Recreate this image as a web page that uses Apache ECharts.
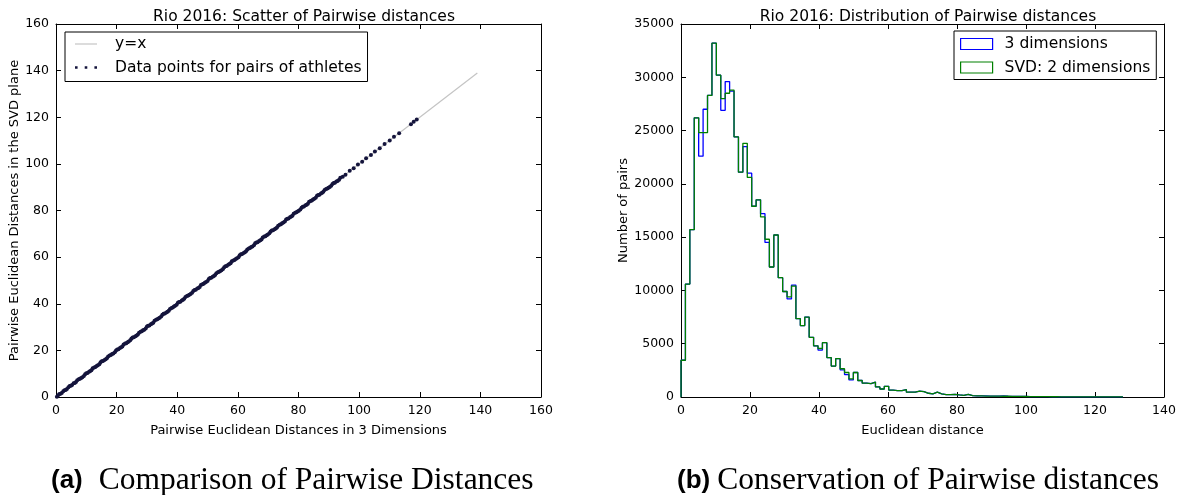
<!DOCTYPE html>
<html lang="en">

<head>
  <meta charset="UTF-8">
  <title>Rio 2016 pairwise distances</title>
  <script src="https://cdn.jsdelivr.net/npm/echarts@6/dist/echarts.min.js"></script>
  <style>
    html, body { margin: 0; padding: 0; background: #fff; }
    #chart { width: 1179px; height: 495px; }
  </style>
</head>

<body>
  <div id="chart"></div>
</body>

</html>
<script>
  // scatter: [distance in 3 dims, distance in SVD plane]
  const pairPoints = [
    [0.3,0.1],[1.1,1.3],[1.9,1.7],[2.8,2.9],[3.6,3.4],[4.5,4.7],[5.3,5.2],[6.2,6.0],[7.0,7.2],[7.9,7.8],
    [8.7,8.5],[9.6,9.8],[10.4,10.3],[11.3,11.1],[12.1,12.3],[13.0,12.9],[13.8,13.6],[14.7,14.9],[15.5,15.4],[16.4,16.2],
    [17.2,17.4],[18.1,18.0],[18.9,18.7],[19.8,20.0],[20.6,20.5],[21.5,21.3],[22.3,22.5],[23.2,23.1],[24.0,23.8],[24.9,25.1],
    [25.7,25.6],[26.6,26.4],[27.4,27.6],[28.3,28.2],[29.1,28.9],[30.0,30.2],[30.8,30.7],[31.7,31.5],[32.5,32.7],[33.4,33.3],
    [34.2,34.0],[35.1,35.3],[35.9,35.8],[36.8,36.6],[37.6,37.8],[38.5,38.4],[39.3,39.1],[40.2,40.4],[41.0,40.9],[41.9,41.7],
    [42.7,42.9],[43.6,43.5],[44.4,44.2],[45.3,45.5],[46.1,46.0],[47.0,46.8],[47.8,48.0],[48.7,48.6],[49.5,49.3],[50.4,50.6],
    [51.2,51.1],[52.1,51.9],[52.9,53.1],[53.8,53.7],[54.6,54.4],[55.5,55.7],[56.3,56.2],[57.2,57.0],[58.0,58.2],[58.9,58.8],
    [59.7,59.5],[60.6,60.8],[61.4,61.3],[62.3,62.1],[63.1,63.3],[64.0,63.9],[64.8,64.6],[65.7,65.9],[66.5,66.4],[67.4,67.2],
    [68.2,68.4],[69.1,69.0],[69.9,69.7],[70.8,71.0],[71.6,71.5],[72.5,72.3],[73.3,73.5],[74.2,74.1],[75.0,74.8],[75.9,76.1],
    [76.7,76.6],[77.6,77.4],[78.4,78.6],[79.3,79.2],[80.1,79.9],[81.0,81.2],[81.8,81.7],[82.7,82.5],[83.5,83.7],[84.4,84.3],
    [85.2,85.0],[86.1,86.3],[86.9,86.8],[87.8,87.6],[88.6,88.8],[89.5,89.4],[90.3,90.1],[91.2,91.4],[92.0,91.9],[92.9,92.7],
    [93.8,94.0],[94.6,94.5],[95.5,95.3],[96.9,97.0],[98.2,98.1],[99.6,99.7],[101.0,100.9],[102.3,102.4],[103.9,103.8],[105.2,105.3],
    [106.8,106.7],[108.4,108.5],[110.1,110.0],[111.5,111.6],[113.2,113.1],[117.1,117.0],[118.0,118.1],[119.0,119.0]
  ];
  const pairPointsMore = [
    [0.7,0.8],[1.5,1.4],[2.4,2.5],[3.2,3.0],[4.1,4.2],[4.9,4.8],[5.8,5.9],[6.6,6.4],[7.5,7.6],[8.3,8.2],
    [9.2,9.0],[10.0,10.2],[10.9,10.8],[11.7,11.5],[12.6,12.7],[13.4,13.3],[14.3,14.1],[15.1,15.3],[16.0,15.9],[16.8,16.6],
    [17.7,17.8],[18.5,18.4],[19.4,19.2],[20.2,20.4],[21.1,21.0],[21.9,21.7],[22.8,22.9],[23.6,23.5],[24.5,24.3],[25.3,25.5],
    [26.2,26.1],[27.0,26.8],[27.9,28.0],[28.7,28.6],[29.6,29.4],[30.4,30.6],[31.3,31.2],[32.1,31.9],[33.0,33.1],[33.8,33.7],
    [34.7,34.5],[35.5,35.7],[36.4,36.3],[37.2,37.0],[38.1,38.2],[38.9,38.8],[39.8,39.6],[40.6,40.8],[41.5,41.4],[42.3,42.1],
    [43.2,43.3],[44.0,43.9],[44.9,44.7],[45.7,45.9],[46.6,46.5],[47.4,47.2],[48.3,48.4],[49.1,49.0],[50.0,49.8],[50.8,51.0],
    [51.7,51.6],[52.5,52.3],[53.4,53.5],[54.2,54.1],[55.1,54.9],[55.9,56.1],[56.8,56.7],[57.6,57.4],[58.5,58.6],[59.3,59.2],
    [60.2,60.0],[61.0,61.2],[61.9,61.8],[62.7,62.5],[63.6,63.7],[64.4,64.3],[65.3,65.1],[66.1,66.3],[67.0,66.9],[67.8,67.6],
    [68.7,68.8],[69.5,69.4],[70.4,70.2],[71.2,71.4],[72.1,72.0],[72.9,72.7],[73.8,73.9],[74.6,74.5],[75.5,75.3],[76.3,76.5],
    [77.2,77.1],[78.0,77.8],[78.9,79.0],[79.7,79.6],[80.6,80.4],[81.4,81.6],[82.3,82.2],[83.1,82.9],[84.0,84.1],[84.8,84.7],
    [85.7,85.5],[86.5,86.7],[87.4,87.3],[88.2,88.0],[89.1,89.2],[89.9,89.8],[90.8,90.6],[91.6,91.8],[92.5,92.4],[93.4,93.2]
  ];
  const identityLine = [[0, 0], [139, 139]];

  // histogram: 100 bins over [0, 128.1]
  const histMax = 128.1;
  const counts3d = [
    3450, 10600, 15700, 26200, 22600, 27000, 28300, 33200, 30200, 26900,
    29600, 28700, 24400, 21100, 23500, 21000, 17900, 18500, 17200, 14500,
    12200, 15200, 11200, 9900, 9200, 10500, 7350, 6700, 7500, 5600,
    4800, 4400, 5100, 3700, 2900, 3600, 2550, 2100, 1600, 2300,
    1550, 1300, 1250, 1400, 950, 750, 1000, 650, 600, 600,
    700, 450, 450, 550, 500, 350, 300, 450, 300, 220,
    220, 250, 200, 160, 250, 120, 110, 100, 100, 90,
    90, 80, 100, 70, 60, 60, 50, 50, 40, 40,
    35, 30, 30, 25, 25, 20, 20, 18, 15, 15,
    12, 12, 10, 10, 8, 8, 6, 6, 5, 5
  ];
  const countsSvd = [
    3450, 10600, 15700, 26200, 24800, 24800, 28300, 33200, 30200, 28000,
    28500, 28800, 24400, 21100, 23800, 20600, 17900, 18500, 16900, 14800,
    12200, 15200, 11200, 9900, 9400, 10400, 7350, 6700, 7500, 5600,
    4800, 4550, 5100, 3700, 2900, 3600, 2650, 2300, 1700, 2300,
    1550, 1300, 1250, 1400, 950, 750, 1000, 650, 600, 600,
    700, 450, 450, 550, 500, 350, 300, 450, 300, 220,
    220, 250, 200, 160, 250, 120, 100, 100, 90, 90,
    80, 80, 70, 70, 60, 55, 50, 45, 40, 40,
    35, 30, 30, 25, 25, 20, 20, 18, 15, 15,
    12, 12, 10, 10, 8, 8, 6, 6, 5, 5
  ];

  const FONT = 'DejaVu Sans';

  // outline of a step histogram as points for a step:'end' line
  function stepOutline(counts) {
    const w = histMax / counts.length;
    const pts = [[0, 0]];
    counts.forEach((c, i) => pts.push([i * w, c]));
    pts.push([histMax, 0]);
    return pts;
  }

  function frameAxes(dim, grid, min, max, interval, extra) {
    const base = {
      gridIndex: grid,
      type: 'value',
      min: min,
      max: max,
      interval: interval,
      splitLine: { show: false },
      axisLine: { show: true, onZero: false, lineStyle: { color: '#000', width: 1 } },
      axisTick: { show: true, inside: true, length: 5, lineStyle: { color: '#000' } },
      axisLabel: { color: '#000', fontFamily: FONT, fontSize: 12.5, margin: 7, formatter: v => String(v) }
    };
    const main = Object.assign({}, base, extra, { position: dim === 'x' ? 'bottom' : 'left' });
    const mirror = Object.assign({}, base, {
      position: dim === 'x' ? 'top' : 'right',
      axisLabel: { show: false }
    });
    return [main, mirror];
  }

  const axisName = { color: '#000', fontFamily: FONT, fontSize: 13 };
  function captionRich(gap) {
    return {
      b: { fontFamily: 'Liberation Sans', fontWeight: 'bold', fontSize: 26, color: '#000' },
      s: { fontFamily: 'Liberation Serif', fontWeight: 'normal', fontSize: 31.5, color: '#000', padding: [0, 0, 0, gap] }
    };
  }

  const chart = echarts.init(document.getElementById('chart'));

  chart.setOption({
    animation: false,
    backgroundColor: '#fff',
    title: [
      {
        text: 'Rio 2016: Scatter of Pairwise distances',
        left: 299, top: 4, textAlign: 'center',
        textStyle: { fontFamily: FONT, fontSize: 15.5, fontWeight: 'normal', color: '#000' }
      },
      {
        text: 'Rio 2016: Distribution of Pairwise distances',
        left: 923, top: 4, textAlign: 'center',
        textStyle: { fontFamily: FONT, fontSize: 15.5, fontWeight: 'normal', color: '#000' }
      },
      {
        text: '{b|(a)}{s|Comparison of Pairwise Distances}',
        left: 46, top: 460,
        textStyle: { fontWeight: 'normal', rich: captionRich(16) }
      },
      {
        text: '{b|(b)}{s|Conservation of Pairwise distances}',
        left: 672, top: 460,
        textStyle: { fontWeight: 'normal', rich: captionRich(7) }
      }
    ],
    legend: [
      {
        left: 65, top: 32, orient: 'vertical',
        padding: [4, 6, 6, 10],
        itemGap: 7.5, itemWidth: 22, itemHeight: 14,
        backgroundColor: '#fff', borderColor: '#000', borderWidth: 1, borderRadius: 0,
        textStyle: { fontFamily: FONT, fontSize: 15.5, color: '#000', padding: [0, 0, 0, 13] },
        data: [
          { name: 'y=x', icon: 'path://M0,0h22v1.2h-22z', itemStyle: { color: '#c4c4c4' } },
          { name: 'Data points for pairs of athletes',
            icon: 'path://M0,0h2.4v2.4h-2.4z M9,0h2.4v2.4h-2.4z M18,0h2.4v2.4h-2.4z',
            itemStyle: { color: '#14143c' } }
        ]
      },
      {
        left: 954, top: 31, orient: 'vertical',
        padding: [5, 6, 4, 6],
        itemGap: 7.5, itemWidth: 32, itemHeight: 11,
        backgroundColor: '#fff', borderColor: '#000', borderWidth: 1, borderRadius: 0,
        textStyle: { fontFamily: FONT, fontSize: 15.5, color: '#000', padding: [0, 0, 0, 7] },
        data: [
          { name: '3 dimensions', icon: 'rect',
            itemStyle: { color: 'rgba(0,0,0,0)', borderColor: '#0000ff', borderWidth: 1.2 } },
          { name: 'SVD: 2 dimensions', icon: 'rect',
            itemStyle: { color: 'rgba(0,0,0,0)', borderColor: '#008000', borderWidth: 1.2 } }
        ]
      }
    ],
    grid: [
      { left: 56, top: 24, width: 485, height: 373 },
      { left: 681, top: 24, width: 483, height: 373 }
    ],
    xAxis: [
      ...frameAxes('x', 0, 0, 160, 20, {
        name: 'Pairwise Euclidean Distances in 3 Dimensions',
        nameLocation: 'middle', nameGap: 27, nameTextStyle: axisName
      }),
      ...frameAxes('x', 1, 0, 140, 20, {
        name: 'Euclidean distance',
        nameLocation: 'middle', nameGap: 27, nameTextStyle: axisName
      })
    ],
    yAxis: [
      ...frameAxes('y', 0, 0, 160, 20, {
        name: 'Pairwise Euclidean Distances in the SVD plane',
        nameLocation: 'middle', nameGap: 32, nameTextStyle: axisName
      }),
      ...frameAxes('y', 1, 0, 35000, 5000, {
        name: 'Number of pairs',
        nameLocation: 'middle', nameGap: 51, nameTextStyle: axisName
      })
    ],
    series: [
      {
        name: 'y=x',
        type: 'line',
        xAxisIndex: 0, yAxisIndex: 0,
        data: identityLine,
        symbol: 'none',
        lineStyle: { color: '#c4c4c4', width: 1.2 },
        itemStyle: { color: '#c4c4c4' },
        z: 2
      },
      {
        name: 'Data points for pairs of athletes',
        type: 'scatter',
        xAxisIndex: 0, yAxisIndex: 0,
        data: pairPoints.concat(pairPointsMore),
        symbol: 'circle',
        symbolSize: 4,
        itemStyle: { color: '#14143c', opacity: 1 },
        z: 3
      },
      {
        name: '3 dimensions',
        type: 'line',
        xAxisIndex: 2, yAxisIndex: 2,
        data: stepOutline(counts3d),
        step: 'end',
        symbol: 'none',
        lineStyle: { color: '#0000ff', width: 1.3 },
        itemStyle: { color: '#0000ff' },
        z: 2
      },
      {
        name: 'SVD: 2 dimensions',
        type: 'line',
        xAxisIndex: 2, yAxisIndex: 2,
        data: stepOutline(countsSvd),
        step: 'end',
        symbol: 'none',
        lineStyle: { color: '#008000', width: 1.3 },
        itemStyle: { color: '#008000' },
        z: 3
      }
    ]
  });
</script>
